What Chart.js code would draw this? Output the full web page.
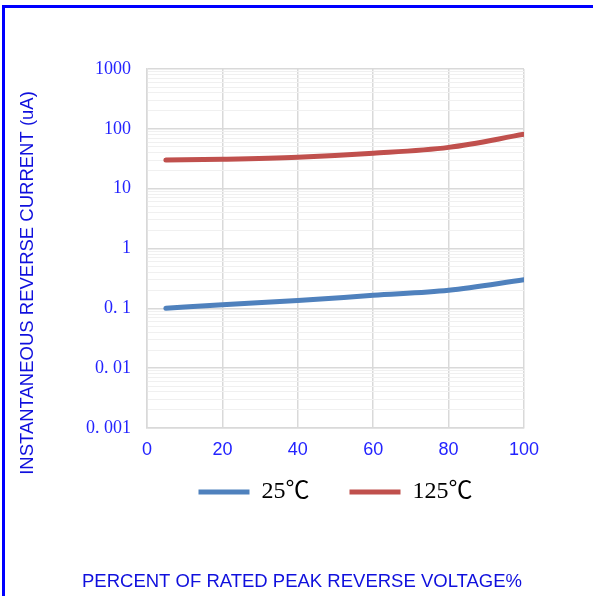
<!DOCTYPE html>
<html>
<head>
<meta charset="utf-8">
<script src="https://cdn.jsdelivr.net/npm/chart.js@4.4.1/dist/chart.umd.min.js"></script>
<style>
  html, body { margin: 0; padding: 0; background: #fff; overflow: hidden; }
  #frame { position: absolute; left: 2px; top: 5px; width: 620px; height: 620px;
           border-top: 3px solid #0000ff; border-left: 3px solid #0000ff; }
  #chart { position: absolute; left: 0; top: 0; }
</style>
</head>
<body>
<div id="frame"></div>
<canvas id="chart" width="593" height="596"></canvas>
<script>
// valores
const voltagePct = [5, 20, 40, 60, 80, 100];
const current25 = [0.1, 0.115, 0.135, 0.165, 0.2, 0.3];
const current125 = [30, 31, 33.5, 39, 49, 81];
const seriesNames = ['25℃', '125℃'];

const xTicks = [0, 20, 40, 60, 80, 100];
const yDecades = [0.001, 0.01, 0.1, 1, 10, 100, 1000];
const yTickLabels = ['0. 001', '0. 01', '0. 1', '1', '10', '100', '1000'];

const xTitle = 'PERCENT OF RATED PEAK REVERSE VOLTAGE%';
const yTitle = 'INSTANTANEOUS REVERSE CURRENT (uA)';

const titleColor = '#1010dd';
const tickColor = '#2323ff';

function toPoints(ys) {
  return voltagePct.map((x, i) => ({ x: x, y: ys[i] }));
}

// titulos dos eixos desenhados a parte (posicao igual ao original)
const axisCaptions = {
  id: 'axisCaptions',
  afterDraw(chart) {
    const ctx = chart.ctx;
    ctx.save();
    ctx.fillStyle = titleColor;
    ctx.font = '18.5px "Liberation Sans", Arial, sans-serif';
    ctx.textAlign = 'center';
    ctx.textBaseline = 'middle';
    ctx.fillText(xTitle, 302, 582);
    ctx.translate(28, 283);
    ctx.rotate(-Math.PI / 2);
    ctx.fillText(yTitle, 0, 0);
    ctx.restore();
  }
};

const ctx = document.getElementById('chart').getContext('2d');
new Chart(ctx, {
  type: 'line',
  data: {
    datasets: [{
      label: seriesNames[0],
      data: toPoints(current25),
      borderColor: '#4f81bd',
      backgroundColor: '#4f81bd',
      borderWidth: 5,
      borderCapStyle: 'round',
      pointRadius: 0,
      cubicInterpolationMode: 'monotone'
    }, {
      label: seriesNames[1],
      data: toPoints(current125),
      borderColor: '#c0504d',
      backgroundColor: '#c0504d',
      borderWidth: 5,
      borderCapStyle: 'round',
      pointRadius: 0,
      cubicInterpolationMode: 'monotone'
    }]
  },
  options: {
    responsive: false,
    animation: false,
    layout: { padding: { left: 0, right: 69, top: 69, bottom: 82 } },
    scales: {
      x: {
        type: 'linear',
        min: 0,
        max: 100,
        afterFit: s => { s.height = 12; },
        afterBuildTicks: s => { s.ticks = xTicks.map(v => ({ value: v })); },
        grid: { color: '#d9d9d9', lineWidth: 1.5, drawTicks: false },
        border: { color: '#d9d9d9', width: 1.5 },
        ticks: {
          // mirror evita o recorte dos rotulos na caixa baixa do eixo
          mirror: true,
          padding: -33,
          color: tickColor,
          font: { family: '"Liberation Sans", Arial, sans-serif', size: 18 }
        }
      },
      y: {
        type: 'logarithmic',
        min: 0.001,
        max: 1000,
        afterFit: s => { s.width = 147; },
        afterBuildTicks: s => {
          const t = [];
          yDecades.forEach((d, i) => {
            t.push({ value: d, major: true, label: yTickLabels[i] });
            if (i < yDecades.length - 1) {
              for (let k = 2; k <= 9; k++) t.push({ value: d * k, major: false });
            }
          });
          s.ticks = t;
        },
        grid: {
          drawTicks: false,
          color: c => (c.tick && c.tick.major ? '#d9d9d9' : '#f0f0f0'),
          lineWidth: c => (c.tick && c.tick.major ? 1.5 : 1)
        },
        border: { color: '#d9d9d9', width: 1.5 },
        ticks: {
          autoSkip: false,
          padding: 16,
          color: tickColor,
          font: { family: '"Liberation Serif", "Times New Roman", serif', size: 18 },
          callback: (value, index, ticks) => (ticks[index].major ? ticks[index].label : '')
        }
      }
    },
    plugins: {
      legend: {
        position: 'bottom',
        fullSize: false,
        labels: {
          usePointStyle: true,
          pointStyle: 'line',
          pointStyleWidth: 51,
          padding: 40,
          color: '#000',
          font: { family: '"Liberation Serif", "Noto Sans CJK SC", serif', size: 24 }
        }
      },
      tooltip: { enabled: false }
    }
  },
  plugins: [axisCaptions]
});
</script>
</body>
</html>
